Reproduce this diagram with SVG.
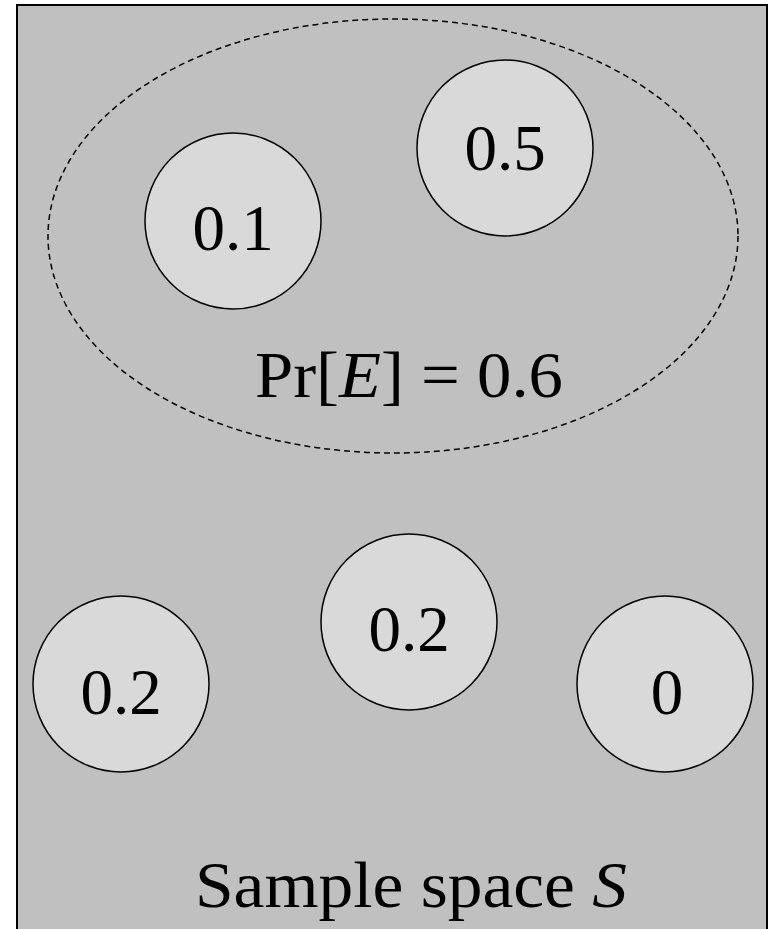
<svg xmlns="http://www.w3.org/2000/svg" width="773" height="929" viewBox="0 0 773 929">
<style>
.node circle{fill:#d9d9d9;stroke:#000;stroke-width:1.5}
.num{font-family:"Liberation Serif",serif;font-size:65px;fill:#000;text-anchor:middle}
.lbl{font-family:"Liberation Serif",serif;fill:#000}
</style>
<rect x="17" y="5" width="750" height="940" fill="#c0c0c0" stroke="#000" stroke-width="2"/>
<g id="event">
<ellipse cx="393" cy="236" rx="345" ry="217" fill="none" stroke="#000" stroke-width="1.5" stroke-dasharray="6,4"/>
<text class="lbl" x="255" y="397" font-size="65" textLength="308" lengthAdjust="spacingAndGlyphs">Pr[<tspan font-style="italic">E</tspan>] = 0.6</text>
</g>
<g id="n01" class="node"><circle cx="233" cy="221" r="88"/><text class="num" x="233" y="250">0.1</text></g>
<g id="n05" class="node"><circle cx="505" cy="148" r="88"/><text class="num" x="505" y="170">0.5</text></g>
<g id="n02m" class="node"><circle cx="409" cy="622" r="88"/><text class="num" x="409" y="651">0.2</text></g>
<g id="n02l" class="node"><circle cx="121" cy="684" r="88"/><text class="num" x="121" y="714">0.2</text></g>
<g id="n0" class="node"><circle cx="665" cy="684" r="88"/><text class="num" x="667" y="714">0</text></g>
<g id="connectors"></g>
<text class="lbl" x="195" y="907" font-size="66" textLength="432" lengthAdjust="spacingAndGlyphs">Sample space <tspan font-style="italic">S</tspan></text>
</svg>
